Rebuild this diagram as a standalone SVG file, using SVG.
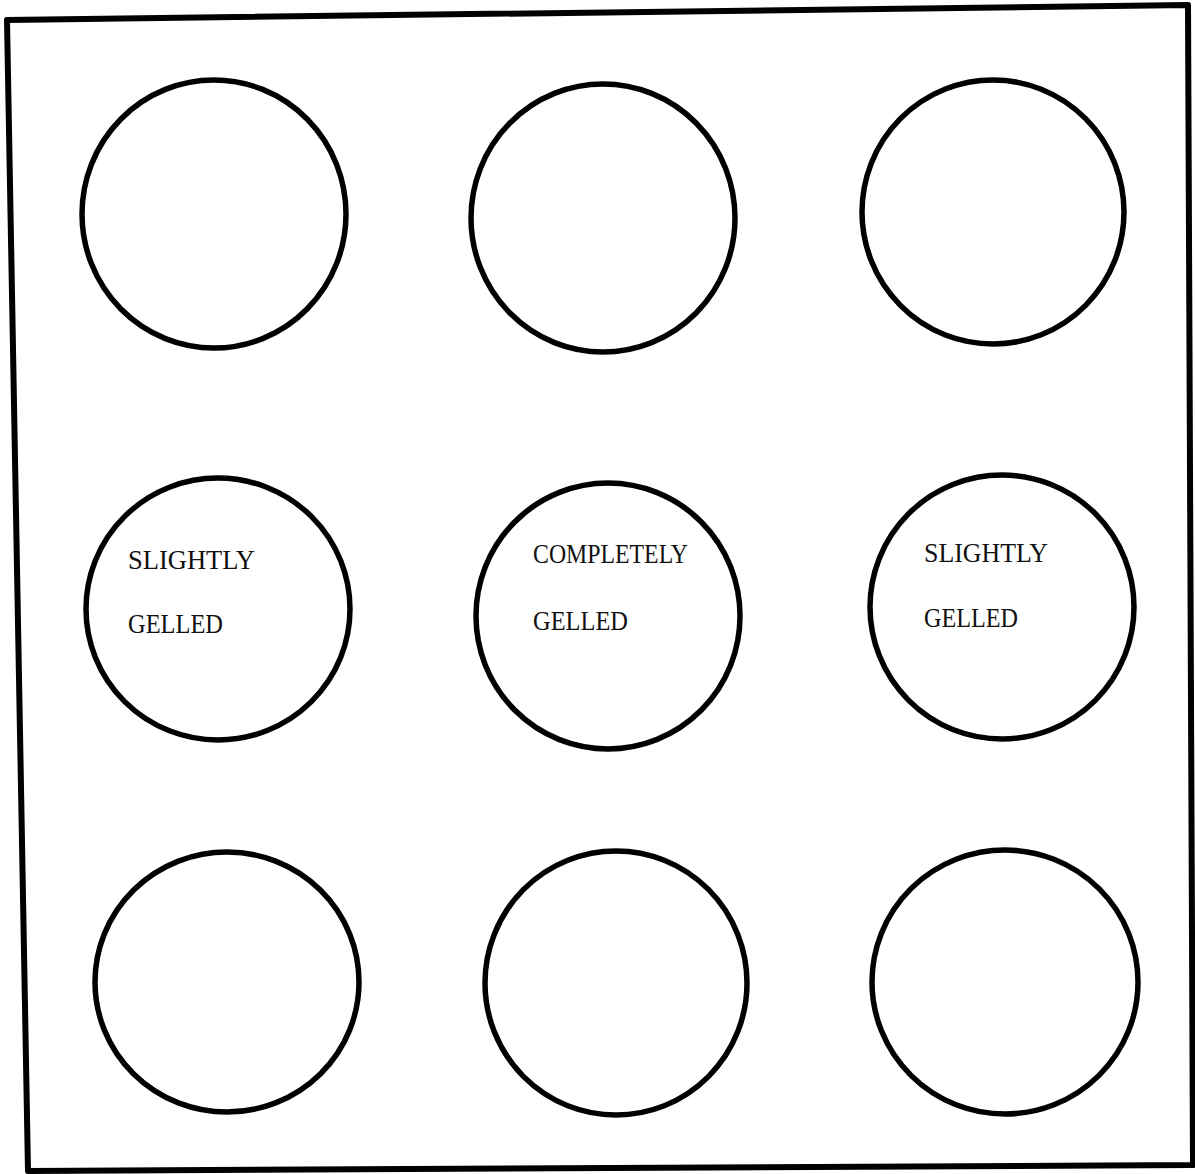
<svg xmlns="http://www.w3.org/2000/svg" width="1195" height="1174" viewBox="0 0 1195 1174">
<style>
.frame{fill:none;stroke:#000;stroke-width:6;stroke-linejoin:round}
.c{fill:none;stroke:#000;stroke-width:5.5}
.t{font-family:"Liberation Serif","Times New Roman",serif;font-size:27px;fill:#111}
</style>
<rect width="1195" height="1174" fill="#fff"/>
<g id="frame"><path class="frame" d="M7,20 L1188,5 L1193,1165 L28,1171 Z"/></g>
<g id="n11"><ellipse class="c" cx="214" cy="214" rx="132" ry="134"/></g>
<g id="n12"><ellipse class="c" cx="603" cy="218" rx="132" ry="134"/></g>
<g id="n13"><ellipse class="c" cx="993" cy="212" rx="131" ry="132"/></g>
<g id="n21"><ellipse class="c" cx="218" cy="609" rx="132" ry="131"/>
<text class="t" x="128" y="569" textLength="127" lengthAdjust="spacingAndGlyphs">SLIGHTLY</text>
<text class="t" x="128" y="633" textLength="95" lengthAdjust="spacingAndGlyphs">GELLED</text></g>
<g id="n22"><ellipse class="c" cx="608" cy="616" rx="132" ry="133"/>
<text class="t" x="533" y="563" textLength="155" lengthAdjust="spacingAndGlyphs">COMPLETELY</text>
<text class="t" x="533" y="630" textLength="95" lengthAdjust="spacingAndGlyphs">GELLED</text></g>
<g id="n23"><ellipse class="c" cx="1002" cy="607" rx="132" ry="132"/>
<text class="t" x="924" y="562" textLength="124" lengthAdjust="spacingAndGlyphs">SLIGHTLY</text>
<text class="t" x="924" y="627" textLength="94" lengthAdjust="spacingAndGlyphs">GELLED</text></g>
<g id="n31"><ellipse class="c" cx="227" cy="982" rx="132" ry="130"/></g>
<g id="n32"><ellipse class="c" cx="616" cy="983" rx="131" ry="132"/></g>
<g id="n33"><ellipse class="c" cx="1005" cy="982" rx="133" ry="132"/></g>
<g id="connectors"></g>
</svg>
